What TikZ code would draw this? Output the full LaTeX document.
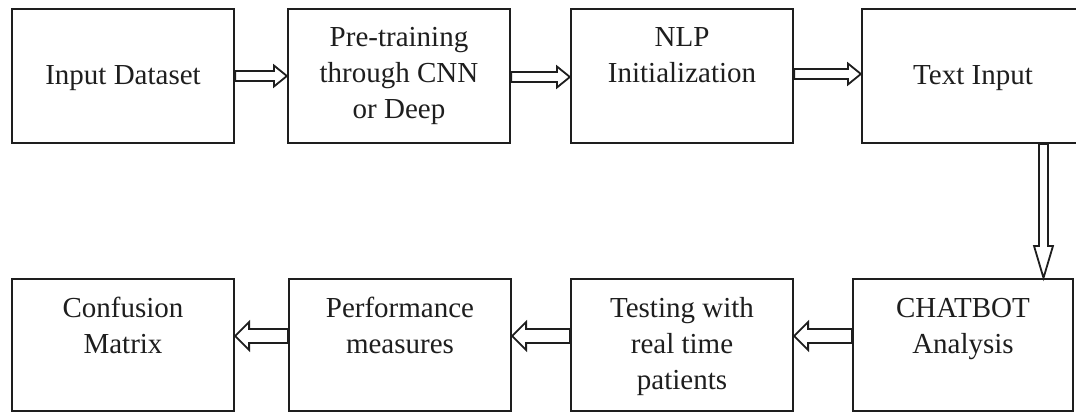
\documentclass[tikz,border=0pt]{standalone}
\usepackage{fontspec}
\setmainfont{Liberation Serif}
\usetikzlibrary{calc}
\definecolor{ink}{RGB}{30,30,30}
\tikzset{
  box/.style={draw=ink, line width=2.2pt, rectangle, inner sep=0pt, minimum width=222pt, minimum height=134pt},
  lowbox/.style={box, minimum height=132pt},
  lbl/.style={anchor=north, align=center, inner sep=0pt, text=ink,
              font=\fontsize{29}{36}\selectfont},
  arr/.style={draw=ink, line width=1.8pt, fill=white, line join=miter}
}
% right-pointing hollow arrow: from, to, y, shaft half, head half, head length
\newcommand\arrR[6]{%
  \coordinate (s) at (#1.east |- 0,#3);
  \coordinate (e) at (#2.west |- 0,#3);
  \draw[arr] ([yshift=#4pt]s) -- ([xshift=-#6pt,yshift=#4pt]e) -- ([xshift=-#6pt,yshift=#5pt]e) -- (e)
     -- ([xshift=-#6pt,yshift=-#5pt]e) -- ([xshift=-#6pt,yshift=-#4pt]e) -- ([yshift=-#4pt]s) -- cycle;}
% left-pointing hollow arrow
\newcommand\arrL[6]{%
  \coordinate (s) at (#1.west |- 0,#3);
  \coordinate (e) at (#2.east |- 0,#3);
  \draw[arr] ([yshift=#4pt]s) -- ([xshift=#6pt,yshift=#4pt]e) -- ([xshift=#6pt,yshift=#5pt]e) -- (e)
     -- ([xshift=#6pt,yshift=-#5pt]e) -- ([xshift=#6pt,yshift=-#4pt]e) -- ([yshift=-#4pt]s) -- cycle;}
\begin{document}
\begin{tikzpicture}[x=1pt,y=-1pt]
\useasboundingbox (0,0) rectangle (1076,414);
\clip (0,0) rectangle (1076,414);
\fill[white] (0,0) rectangle (1076,414);
% top row
\node[box] (b1) at (123,76) {};
\node[box] (b2) at (399,76) {};
\node[box] (b3) at (682,76) {};
\node[box] (b4) at (973,76) {};
% bottom row
\node[lowbox] (c1) at (123,345) {};
\node[lowbox] (c2) at (400,345) {};
\node[lowbox] (c3) at (682,345) {};
\node[lowbox, minimum width=220pt] (c4) at (963,345) {};
% texts
\node[lbl] (t1) at ([yshift=-56pt]b1.north) {\rule{0pt}{20pt}Input Dataset};
\node[lbl] (t2) at ([yshift=-18pt]b2.north) {\rule{0pt}{20pt}Pre-training\\through CNN\\or Deep};
\node[lbl] (t3) at ([yshift=-18pt]b3.north) {\rule{0pt}{20pt}NLP\\Initialization};
\node[lbl] (t4) at ([yshift=-56pt]b4.north) {\rule{0pt}{20pt}Text Input};
\node[lbl] (u1) at ([yshift=-19pt]c1.north) {\rule{0pt}{20pt}Confusion\\Matrix};
\node[lbl] (u2) at ([yshift=-19pt]c2.north) {\rule{0pt}{20pt}Performance\\measures};
\node[lbl] (u3) at ([yshift=-19pt]c3.north) {\rule{0pt}{20pt}Testing with\\real time\\patients};
\node[lbl] (u4) at ([yshift=-19pt]c4.north) {\rule{0pt}{20pt}CHATBOT\\Analysis};
% top arrows
\arrR{b1}{b2}{76}{5}{10.5}{13}
\arrR{b2}{b3}{77}{5}{10.5}{13}
\arrR{b3}{b4}{74}{5}{10.5}{13}
% down arrow
\coordinate (ds) at (1043.5,0 |- b4.south);
\coordinate (de) at (1043.5,0 |- c4.north);
\draw[arr] ([xshift=-4.5pt]ds) -- ([xshift=-4.5pt,yshift=32pt]de) -- ([xshift=-9.5pt,yshift=32pt]de) -- (de)
   -- ([xshift=9.5pt,yshift=32pt]de) -- ([xshift=4.5pt,yshift=32pt]de) -- ([xshift=4.5pt]ds) -- cycle;
% bottom arrows
\arrL{c4}{c3}{336}{7}{14}{14}
\arrL{c3}{c2}{336}{7}{14}{14}
\arrL{c2}{c1}{336}{7}{14}{14}
\end{tikzpicture}
\end{document}
